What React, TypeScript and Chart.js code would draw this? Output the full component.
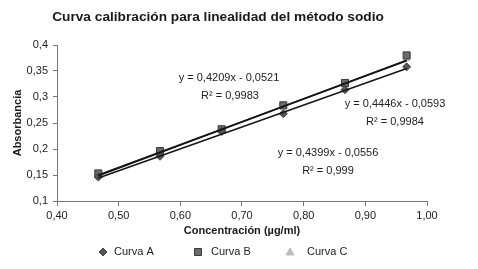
import React, { useEffect, useRef } from "react";
import { Chart, registerables } from "chart.js";

Chart.register(...registerables);

const concentrations = [0.467, 0.567, 0.667, 0.767, 0.867, 0.967];
const curvaA = [0.146, 0.186, 0.234, 0.268, 0.314, 0.358];
const curvaB = [0.153, 0.196, 0.238, 0.284, 0.327, 0.380];
const curvaC = [0.150, 0.193, 0.236, 0.281, 0.323, 0.374];
const seriesLabels = ["Curva A", "Curva B", "Curva C"];
const slopes = [0.4209, 0.4446, 0.4399];
const intercepts = [-0.0521, -0.0593, -0.0556];
const r2Labels = ["0,9983", "0,9984", "0,999"];
const chartTitle = "Curva calibración para linealidad del método sodio";
const xTitle = "Concentración (µg/ml)";
const yTitle = "Absorbancia";

const FONT = "'Liberation Sans', Arial, sans-serif";
const markerColors = ["#555555", "#6a6a6a", "#bdbdbd"];
const markerBorders = ["#444444", "#3a3a3a", "#bdbdbd"];
const markerStyles = ["rectRot", "rect", "triangle"];

const comma = (v: number) => String(v).replace(".", ",");

export default function App() {
  const ref = useRef<HTMLCanvasElement | null>(null);

  useEffect(() => {
    document.body.style.margin = "0";
    const canvas = ref.current;
    if (!canvas) return;
    const series = [curvaA, curvaB, curvaC];

    const xFirst = concentrations[0];
    const xLast = concentrations[concentrations.length - 1];
    const trendSets = slopes.map((m, i) => ({
      type: "line" as const,
      label: "trend" + i,
      data: [
        { x: xFirst, y: m * xFirst + intercepts[i] },
        { x: xLast, y: m * xLast + intercepts[i] },
      ],
      borderColor: "#161616",
      borderWidth: 1.6,
      pointRadius: 0,
      showLine: true,
      fill: false,
    }));

    const scatterSets = series.map((s, i) => ({
      type: "scatter" as const,
      label: seriesLabels[i],
      data: s.map((y, j) => ({ x: concentrations[j], y })),
      backgroundColor: markerColors[i],
      borderColor: markerBorders[i],
      borderWidth: 1,
      pointStyle: markerStyles[i],
      pointRadius: i === 1 ? 5 : 4,
    }));

    const textPlugin = {
      id: "texts",
      afterDraw(chart: any) {
        const ctx = chart.ctx;
        ctx.save();
        // title
        ctx.fillStyle = "#1a1a1a";
        ctx.font = `bold 13.7px ${FONT}`;
        ctx.textAlign = "center";
        ctx.textBaseline = "middle";
        ctx.fillText(chartTitle, 218, 17);
        // equations
        const eqPos = [
          [229, 78, 230, 96],
          [395, 104, 395, 122],
          [328, 153, 328, 171],
        ];
        ctx.font = `11px ${FONT}`;
        ctx.fillStyle = "#222";
        slopes.forEach((m, i) => {
          const [ex, ey, rx, ry] = eqPos[i];
          ctx.fillText(`y = ${comma(m)}x - ${comma(-intercepts[i])}`, ex, ey);
          ctx.fillText(`R² = ${r2Labels[i]}`, rx, ry);
        });
        // legend
        const legX = [103, 198, 290];
        const legY = 252;
        ctx.textAlign = "left";
        seriesLabels.forEach((lab, i) => {
          const x = legX[i];
          ctx.fillStyle = markerColors[i];
          ctx.strokeStyle = markerBorders[i];
          ctx.lineWidth = 1;
          ctx.beginPath();
          if (i === 0) {
            ctx.moveTo(x, legY - 4);
            ctx.lineTo(x + 4, legY);
            ctx.lineTo(x, legY + 4);
            ctx.lineTo(x - 4, legY);
            ctx.closePath();
          } else if (i === 1) {
            ctx.rect(x - 3.5, legY - 3.5, 7, 7);
          } else {
            ctx.moveTo(x, legY - 4);
            ctx.lineTo(x + 4, legY + 3);
            ctx.lineTo(x - 4, legY + 3);
            ctx.closePath();
          }
          ctx.fill();
          ctx.stroke();
          ctx.fillStyle = "#222";
          ctx.fillText(lab, x + [11, 13, 17][i], legY);
        });
        ctx.restore();
      },
    };

    const chart = new Chart(canvas, {
      data: { datasets: [...trendSets, ...scatterSets] as any },
      options: {
        responsive: false,
        animation: false,
        devicePixelRatio: 1,
        layout: { padding: { top: 45, left: 0, right: 51, bottom: 31 } },
        plugins: {
          legend: { display: false },
          title: { display: false },
          tooltip: { enabled: false },
        },
        scales: {
          x: {
            type: "linear",
            min: 0.4,
            max: 1.0,
            afterFit: (s: any) => {
              s.height = 37;
            },
            ticks: {
              stepSize: 0.1,
              color: "#222",
              font: { family: FONT, size: 11 },
              padding: 3,
              callback: (v: any) => Number(v).toFixed(2).replace(".", ","),
            },
            grid: { drawOnChartArea: false, tickLength: 5, color: "#777" },
            border: { color: "#777", width: 1 },
            title: {
              display: true,
              text: xTitle,
              color: "#1a1a1a",
              font: { family: FONT, size: 11, weight: "bold" },
              padding: { top: 2, bottom: 0 },
            },
          },
          y: {
            type: "linear",
            min: 0.1,
            max: 0.4,
            afterFit: (s: any) => {
              s.width = 57;
            },
            ticks: {
              stepSize: 0.05,
              color: "#222",
              font: { family: FONT, size: 11 },
              padding: 5,
              callback: (v: any) => comma(Number(Number(v).toFixed(2))),
            },
            grid: { drawOnChartArea: false, tickLength: 4, color: "#777" },
            border: { color: "#777", width: 1 },
            title: {
              display: true,
              text: yTitle,
              color: "#1a1a1a",
              font: { family: FONT, size: 11, weight: "bold" },
              padding: { top: 11, bottom: 0 },
            },
          },
        },
      },
      plugins: [textPlugin],
    } as any);
    return () => chart.destroy();
  }, []);

  return (
    <div style={{ width: 478, height: 269 }}>
      <canvas ref={ref} width={478} height={269} />
    </div>
  );
}
